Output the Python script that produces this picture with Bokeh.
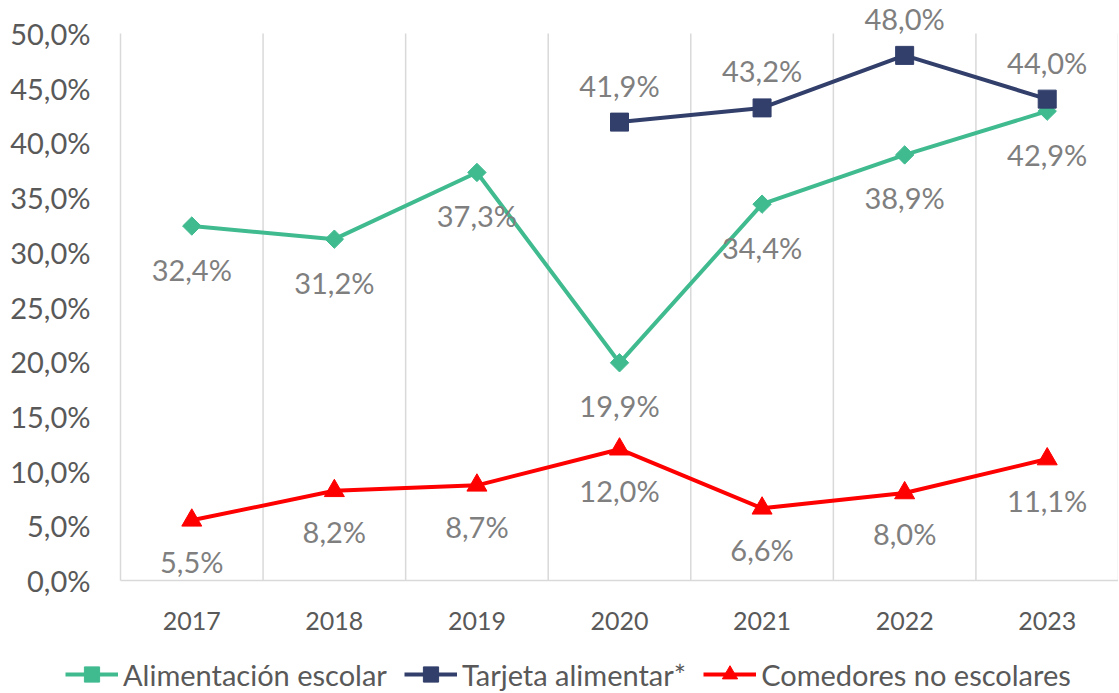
import math
from bokeh.plotting import figure
from bokeh.models import (ColumnDataSource, Range1d, Legend, LegendItem, LabelSet)
from bokeh.core.properties import value
from bokeh.embed import file_html
from bokeh.resources import INLINE

years = ["2017", "2018", "2019", "2020", "2021", "2022", "2023"]
alimentacion = [32.4, 31.2, 37.3, 19.9, 34.4, 38.9, 42.9]
tarjeta = [float("nan"), float("nan"), float("nan"), 41.9, 43.2, 48.0, 44.0]
comedores = [5.5, 8.2, 8.7, 12.0, 6.6, 8.0, 11.1]
y_ticks = [0, 5, 10, 15, 20, 25, 30, 35, 40, 45, 50]

names = ["Alimentación escolar", "Tarjeta alimentar*", "Comedores no escolares"]
colors = ["#40BB90", "#323F6B", "#FF0000"]

FONT = "Lato"
LABEL_GRAY = "#595959"
DATA_GRAY = "#7F7F7F"
GRID = "#D9D9D9"

# layout (pixels)
W, H = 1118, 693
PLOT_LEFT, PLOT_TOP, PLOT_BOTTOM = 120, 33, 580


def pct(v):
    return f"{v:.1f}".replace(".", ",") + "%"


n = len(years)
xs = [i + 0.5 for i in range(n)]
bounds = list(range(n + 1))
ymin, ymax = y_ticks[0], y_ticks[-1]

sx = (W - PLOT_LEFT) / n
sy = (PLOT_BOTTOM - PLOT_TOP) / (ymax - ymin)
x_range = Range1d(-PLOT_LEFT / sx, n)
y_range = Range1d(ymin - (H - PLOT_BOTTOM) / sy, ymax + PLOT_TOP / sy)

p = figure(width=W, height=H, output_backend="svg", toolbar_location=None,
           x_range=x_range, y_range=y_range, x_axis_type=None, y_axis_type=None,
           min_border=0)
p.outline_line_color = None
p.grid.visible = False

# vertical gridlines at category boundaries
p.segment(x0=bounds, y0=[ymin] * len(bounds), x1=bounds, y1=[ymax] * len(bounds),
          line_color=GRID, line_width=1.5)
# horizontal axis line
p.segment(x0=[bounds[0]], y0=[ymin], x1=[bounds[-1]], y1=[ymin],
          line_color=GRID, line_width=1.5)

# y tick labels
ysrc = ColumnDataSource(dict(x=[bounds[0]] * len(y_ticks), y=y_ticks,
                             t=[pct(t) for t in y_ticks]))
p.add_layout(LabelSet(x="x", y="y", text="t", source=ysrc, x_offset=-30,
                      text_align="right", text_baseline="middle",
                      text_font=value(FONT), text_font_size=value("29px"),
                      text_color=LABEL_GRAY))
# x tick labels
xsrc = ColumnDataSource(dict(x=xs, y=[ymin] * n, t=years))
p.add_layout(LabelSet(x="x", y="y", text="t", source=xsrc, y_offset=-40,
                      text_align="center", text_baseline="middle",
                      text_font=value(FONT), text_font_size=value("25px"),
                      text_color=LABEL_GRAY))

series = [alimentacion, tarjeta, comedores]
markers = [("square", 13, math.pi / 4), ("square", 18, 0), ("triangle", 20, 0)]
offsets = [-43, 37, -41]

items = []
for vals, name, col, (mk, sz, ang), off in zip(series, names, colors, markers, offsets):
    src = ColumnDataSource(dict(x=xs, y=vals))
    lr = p.line("x", "y", source=src, line_color=col, line_width=4)
    sr = p.scatter("x", "y", source=src, marker=mk, size=sz, angle=ang,
                   fill_color=col, line_color=col)
    items.append(LegendItem(label=name, renderers=[lr, sr]))
    lx = [x for x, v in zip(xs, vals) if not math.isnan(v)]
    ly = [v for v in vals if not math.isnan(v)]
    lsrc = ColumnDataSource(dict(x=lx, y=ly, t=[pct(v) for v in ly]))
    p.add_layout(LabelSet(x="x", y="y", text="t", source=lsrc, y_offset=off,
                          text_align="center", text_baseline="middle",
                          text_font=value(FONT), text_font_size=value("29px"),
                          text_color=DATA_GRAY))

legend = Legend(items=items, orientation="horizontal", location=(65, 0),
                label_text_font=FONT, label_text_font_size="29px",
                label_text_color=LABEL_GRAY, glyph_width=53, glyph_height=38,
                label_standoff=5, spacing=17, padding=0, margin=0,
                border_line_color=None, background_fill_alpha=0)
p.add_layout(legend, "center")

open("out.html", "w").write(file_html(p, INLINE))
